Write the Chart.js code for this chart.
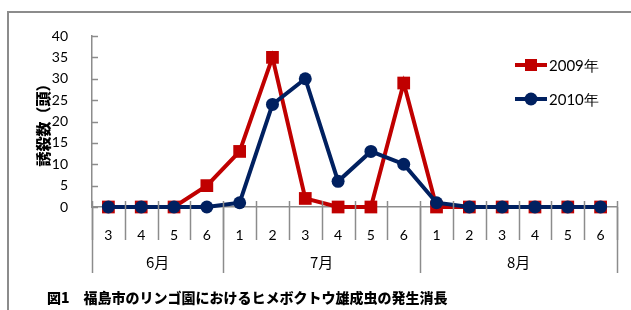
<!DOCTYPE html>
<html>
<head>
<meta charset="utf-8">
<script src="https://cdn.jsdelivr.net/npm/chart.js@4"></script>
<style>
  body { margin: 0; background: #fff; }
  #wrap { position: relative; width: 631px; height: 310px; }
  #frame { position: absolute; left: 7px; top: 11px; width: 640px; height: 320px;
           border-top: 2px solid #8c8c8c; border-left: 2px solid #8c8c8c; }
  canvas { position: absolute; left: 0; top: 0; }
</style>
</head>
<body>
<div id="wrap">
  <div id="frame"></div>
  <canvas id="chart" width="631" height="310"></canvas>
</div>
<script>
// 半旬ごとの調査日（6月3半旬〜8月6半旬）
const weeks = ["3", "4", "5", "6", "1", "2", "3", "4", "5", "6", "1", "2", "3", "4", "5", "6"];
const months = ["6月", "7月", "8月"];
const monthSpans = [4, 6, 6];
const y2009 = [0, 0, 0, 5, 13, 35, 2, 0, 0, 29, 0, 0, 0, 0, 0, 0];
const y2010 = [0, 0, 0, 0, 1, 24, 30, 6, 13, 10, 1, 0, 0, 0, 0, 0];
const seriesNames = ["2009年", "2010年"];
const yMax = 40;
const yStep = 5;

const red = "#c00000";
const navy = "#002060";
const axisGray = "#8c8c8c";
const numFont = "Lato, 'Liberation Sans', sans-serif";
const jpFont = "'Noto Sans CJK JP', sans-serif";

// 軸の目盛線・月の区切り・凡例・見出しを描く
const extras = {
    id: "extras",
    afterDraw(chart) {
        const ctx = chart.ctx;
        const x = chart.scales.x;
        const y = chart.scales.y;
        const base = y.getPixelForValue(0);
        ctx.save();
        ctx.strokeStyle = axisGray;
        ctx.lineWidth = 1.5;

        // y軸の目盛（内側）
        y.ticks.forEach((t) => {
            const py = Math.round(y.getPixelForValue(t.value)) + 0.5;
            ctx.beginPath();
            ctx.moveTo(x.left, py);
            ctx.lineTo(x.left + 6, py);
            ctx.stroke();
        });

        // 半旬の区切り
        for (let i = 0; i <= weeks.length; i++) {
            const px = Math.round(x.getPixelForValue(i - 0.5)) + 0.5;
            ctx.beginPath();
            ctx.moveTo(px, base - 6);
            ctx.lineTo(px, base + 33);
            ctx.stroke();
        }

        // 月の区切りとラベル
        let start = 0;
        const bounds = [0];
        monthSpans.forEach((n) => {
            start += n;
            bounds.push(start);
        });
        bounds.forEach((b) => {
            const px = Math.round(x.getPixelForValue(b - 0.5)) + 0.5;
            ctx.beginPath();
            ctx.moveTo(px, base);
            ctx.lineTo(px, base + 66);
            ctx.stroke();
        });
        ctx.fillStyle = "#000";
        ctx.font = "15px " + jpFont;
        ctx.textAlign = "center";
        ctx.textBaseline = "middle";
        months.forEach((m, i) => {
            const a = x.getPixelForValue(bounds[i] - 0.5);
            const b = x.getPixelForValue(bounds[i + 1] - 0.5);
            ctx.fillText(m, (a + b) / 2, base + 55);
        });

        // y軸タイトル
        ctx.save();
        ctx.translate(43, (chart.chartArea.top + chart.chartArea.bottom) / 2);
        ctx.rotate(-Math.PI / 2);
        ctx.font = "900 15px " + jpFont;
        ctx.fillText("誘殺数（頭）", 0, 0);
        ctx.restore();

        // 凡例
        chart.data.datasets.forEach((ds, i) => {
            const ly = 65 + i * 34;
            ctx.strokeStyle = ds.borderColor;
            ctx.lineWidth = 4;
            ctx.beginPath();
            ctx.moveTo(515, ly);
            ctx.lineTo(547, ly);
            ctx.stroke();
            ctx.fillStyle = ds.borderColor;
            ctx.beginPath();
            if (ds.pointStyle === "rect") {
                ctx.rect(525, ly - 6, 12, 12);
            } else {
                ctx.arc(531, ly, 6.5, 0, Math.PI * 2);
            }
            ctx.fill();
            ctx.fillStyle = "#000";
            ctx.textAlign = "left";
            ctx.font = "15px " + numFont;
            ctx.fillText(ds.label, 549, ly + 1);
        });

        // 図の見出し
        ctx.font = "900 14px " + jpFont;
        ctx.textAlign = "left";
        ctx.fillText("図1　福島市のリンゴ園におけるヒメボクトウ雄成虫の発生消長", 47, 298);
        ctx.restore();
    },
};

new Chart(document.getElementById("chart"), {
    type: "line",
    data: {
        labels: weeks,
        datasets: [
            {
                label: seriesNames[0],
                data: y2009,
                borderColor: red,
                backgroundColor: red,
                borderWidth: 4,
                pointStyle: "rect",
                pointRadius: 9,
                pointBorderWidth: 0,
                clip: false,
                order: 2,
            },
            {
                label: seriesNames[1],
                data: y2010,
                borderColor: navy,
                backgroundColor: navy,
                borderWidth: 4,
                pointStyle: "circle",
                pointRadius: 6.5,
                pointBorderWidth: 0,
                clip: false,
                order: 1,
            },
        ],
    },
    options: {
        responsive: false,
        animation: false,
        layout: { padding: { top: 36, right: 14, left: 0, bottom: 0 } },
        plugins: { legend: { display: false }, tooltip: { enabled: false } },
        elements: { line: { tension: 0 } },
        scales: {
            x: {
                type: "category",
                offset: true,
                grid: { display: false },
                border: { display: true, color: axisGray, width: 1.5 },
                ticks: {
                    color: "#000",
                    font: { family: numFont, size: 14 },
                    padding: 12,
                    maxRotation: 0,
                    autoSkip: false,
                },
                afterFit: (s) => { s.height = 103; },
            },
            y: {
                min: 0,
                max: yMax,
                grid: { display: false },
                border: { display: true, color: axisGray, width: 1.5 },
                ticks: {
                    stepSize: yStep,
                    color: "#000",
                    font: { family: numFont, size: 14 },
                    padding: 16,
                },
                afterFit: (s) => { s.width = 92; },
            },
        },
    },
    plugins: [extras],
});
</script>
</body>
</html>
